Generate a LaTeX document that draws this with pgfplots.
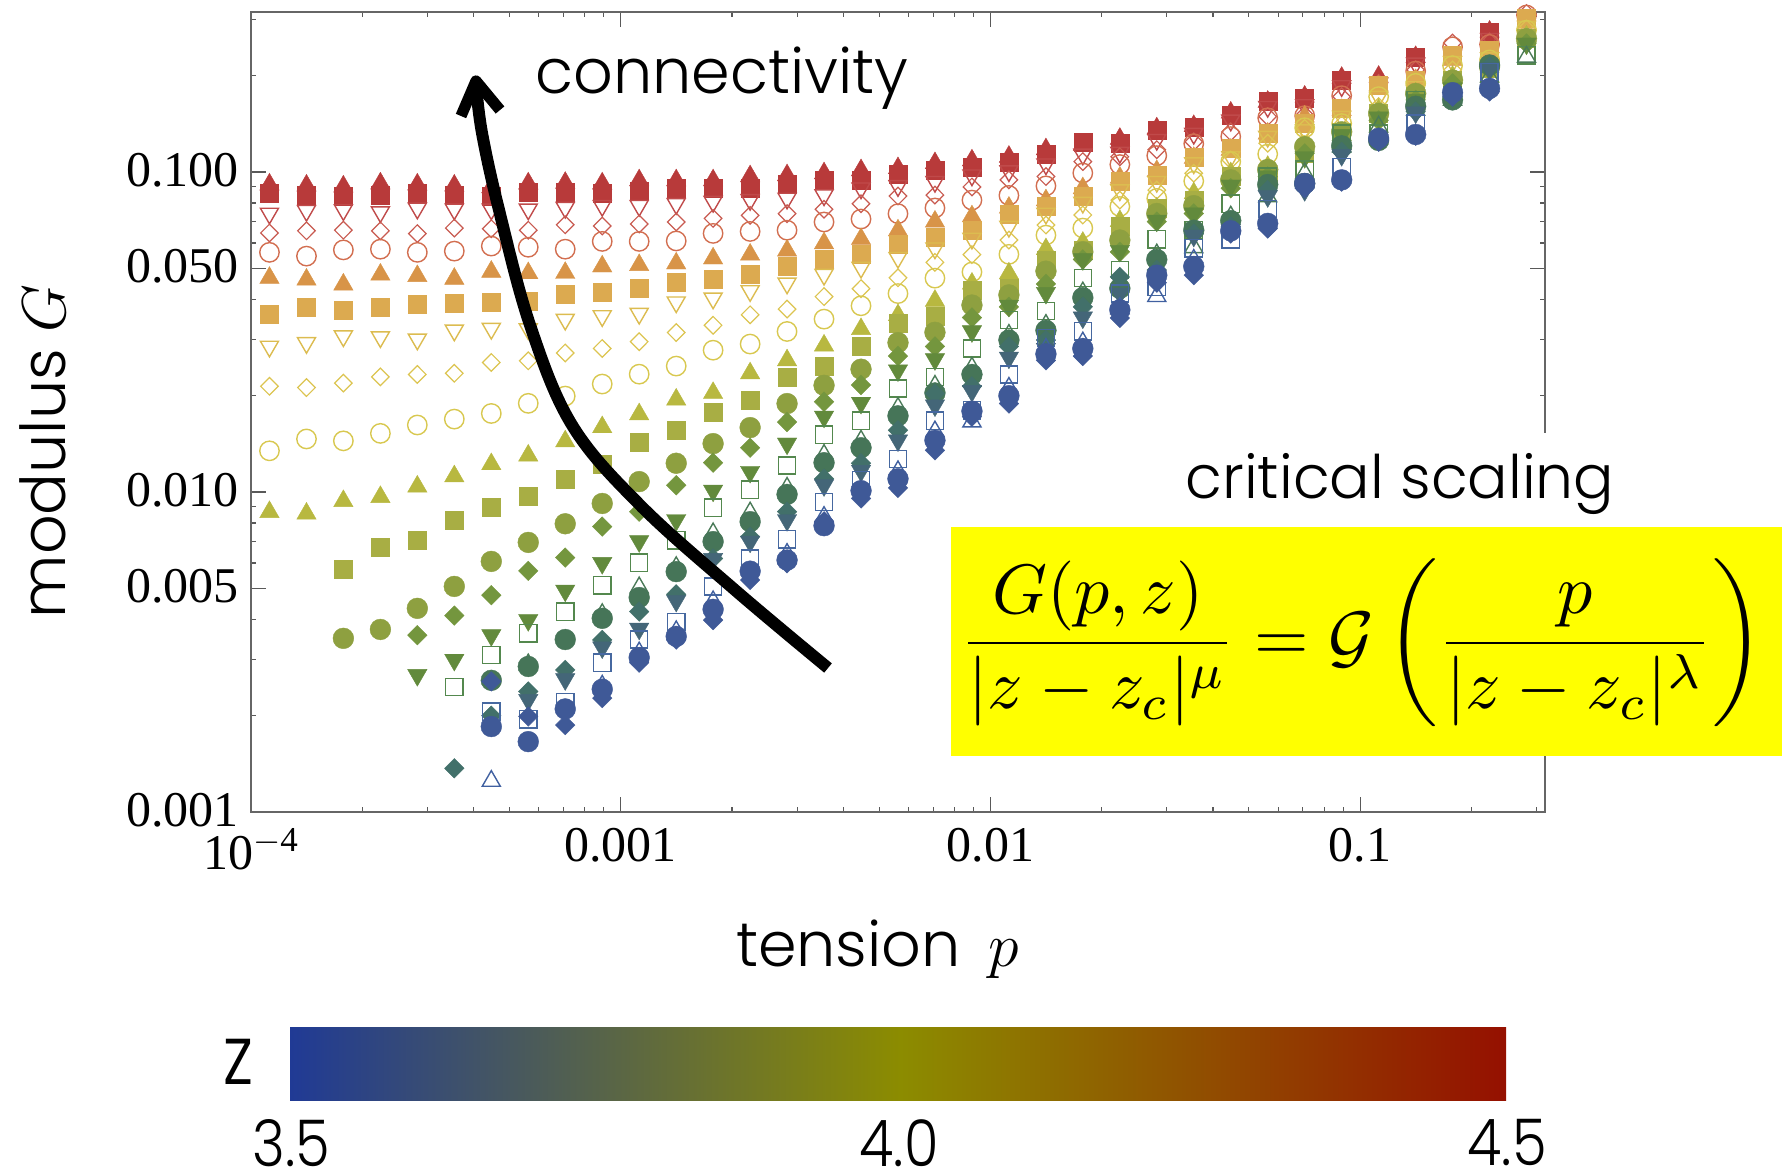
\RequirePackage{fix-cm}
\documentclass[border=0pt]{standalone}
\usepackage[no-math]{fontspec}
\setmainfont{Liberation Serif}
\newfontfamily\gothic{Poppins Light}
\usepackage{pgfplots}
\pgfplotsset{compat=1.18}
\definecolor{c1}{HTML}{B83A3A}\definecolor{c2}{HTML}{B83A3A}\definecolor{c3}{HTML}{C04A4A}
\definecolor{c4}{HTML}{C85A50}\definecolor{c5}{HTML}{D26E50}\definecolor{c6}{HTML}{D89448}
\definecolor{c7}{HTML}{DCAA50}\definecolor{c8}{HTML}{DCBC50}\definecolor{c9}{HTML}{DCC450}
\definecolor{c10}{HTML}{D8C850}\definecolor{c11}{HTML}{B8B840}\definecolor{c12}{HTML}{A8AE44}
\definecolor{c13}{HTML}{8EA040}\definecolor{c14}{HTML}{74963E}\definecolor{c15}{HTML}{628A3C}
\definecolor{c16}{HTML}{54884E}\definecolor{c17}{HTML}{4A7A58}\definecolor{c18}{HTML}{467558}
\definecolor{c19}{HTML}{42706A}\definecolor{c20}{HTML}{446678}\definecolor{c21}{HTML}{4668A0}
\definecolor{c22}{HTML}{4060A0}\definecolor{c23}{HTML}{3F5997}\definecolor{c24}{HTML}{3F5997}
\definecolor{cbL}{HTML}{203A95}\definecolor{cbM}{HTML}{8C8C00}\definecolor{cbR}{HTML}{951000}
\definecolor{yel}{rgb}{1,1,0}
\pgfplotsset{
 ut/.style={only marks,mark=triangle*,mark size=5.6pt,mark options={draw=#1,fill=#1,line width=.2pt,solid}},
 dnt/.style={only marks,mark=triangle*,mark size=5.6pt,mark options={draw=#1,fill=#1,line width=.2pt,rotate=180,solid}},
 st/.style={only marks,mark=square*,mark size=4.5pt,mark options={draw=#1,fill=#1,line width=.2pt,solid}},
 ct/.style={only marks,mark=*,mark size=5.2pt,mark options={draw=#1,fill=#1,line width=.2pt,solid}},
 dt/.style={only marks,mark=diamond*,mark size=4.9pt,mark options={draw=#1,fill=#1,line width=.2pt,xscale=1.33,solid}},
 oc/.style={only marks,mark=o,mark size=4.85pt,mark options={draw=#1,line width=.7pt,solid}},
 od/.style={only marks,mark=diamond,mark size=4.4pt,mark options={draw=#1,line width=.6pt,xscale=1.33,solid}},
 os/.style={only marks,mark=square,mark size=4.3pt,mark options={draw=#1,line width=.7pt,solid}},
 ot/.style={only marks,mark=triangle,mark size=5.2pt,mark options={draw=#1,line width=.7pt,solid}},
 odn/.style={only marks,mark=triangle,mark size=5.2pt,mark options={draw=#1,line width=.7pt,rotate=180,solid}},
}
\begin{document}
\begin{tikzpicture}
\useasboundingbox (0pt,0pt) rectangle (895.5pt,-587.5pt);
\begin{axis}[
 at={(125.5pt,-406pt)},anchor=south west,
 scale only axis,width=647pt,height=400pt,
 xmode=log,ymode=log,
 xmin=1e-4,xmax=0.3162,ymin=1e-3,ymax=0.3162,
 clip=false,
 xtick={1e-4,1e-3,1e-2,1e-1},
 xticklabels={10\textsuperscript{$-$4},0.001,0.01,0.1},
 ytick={0.001,0.005,0.01,0.05,0.1},
 yticklabels={0.001,0.005,0.010,0.050,0.100},
 minor xtick={2e-4,3e-4,4e-4,5e-4,6e-4,7e-4,8e-4,9e-4,2e-3,3e-3,4e-3,5e-3,6e-3,7e-3,8e-3,9e-3,2e-2,3e-2,4e-2,5e-2,6e-2,7e-2,8e-2,9e-2,0.2,0.3},
 minor ytick={0.002,0.003,0.004,0.006,0.007,0.008,0.009,0.02,0.03,0.04,0.06,0.07,0.08,0.09,0.2,0.3},
 tick align=inside,
 major tick length=7.5pt,minor tick length=2.4pt,
 tick style={black!65,line width=.6pt},
 axis line style={black!60,line width=.8pt},
 tick label style={font=\fontsize{25}{28}\selectfont,black},
 x tick label style={yshift=-4.7pt},
 y tick label style={xshift=-2.7pt,yshift=1pt},
 xlabel={\fontsize{31}{36}\selectfont\gothic tension\, $p$},
 ylabel={\fontsize{31}{36}\selectfont\gothic modulus $G$},
 x label style={at={(axis description cs:0.484,-0.172)},anchor=center},
 y label style={at={(axis description cs:-0.161,0.451)},anchor=center},
]
% S1
\addplot[ut=c1] coordinates {(1.122e-4,.0914)(1.413e-4,.0907)(1.778e-4,.0901)(2.239e-4,.0921)(2.818e-4,.0914)(3.548e-4,.0907)(4.467e-4,.0896)(5.623e-4,.0921)(7.079e-4,.0925)(8.913e-4,.0921)(1.122e-3,.0942)(1.413e-3,.0942)(1.778e-3,.0942)(2.239e-3,.0970)(2.818e-3,.0977)(3.548e-3,.0991)(4.467e-3,.1013)(5.623e-3,.1028)(7.079e-3,.1066)(8.913e-3,.1087)(.01122,.1116)(.01413,.1178)(.01778,.1215)(.02239,.127)(.02818,.1369)(.03548,.1392)(.04467,.1533)(.05623,.1658)(.07079,.1720)(.08913,.1970)(.1122,.1985)(.1413,.2288)(.2239,.2745)};
% S2
\addplot[st=c2] coordinates {(1.122e-4,.0856)(1.413e-4,.0847)(1.778e-4,.0841)(2.239e-4,.0849)(2.818e-4,.0856)(3.548e-4,.0849)(4.467e-4,.0840)(5.623e-4,.0864)(7.079e-4,.0864)(8.913e-4,.0860)(1.122e-3,.0872)(1.413e-3,.0887)(1.778e-3,.0893)(2.239e-3,.0887)(2.818e-3,.0917)(3.548e-3,.0940)(4.467e-3,.0940)(5.623e-3,.0981)(7.079e-3,.1010)(8.913e-3,.1032)(.01122,.1070)(.01413,.1140)(.01778,.1237)(.02239,.1226)(.02818,.1347)(.03548,.1385)(.04467,.1500)(.05623,.1660)(.07079,.1695)(.08913,.1938)(.1413,.2280)(.2239,.2725)};
% S3
\addplot[odn=c3] coordinates {(1.122e-4,.0742)(1.413e-4,.0757)(1.778e-4,.0761)(2.239e-4,.0750)(2.818e-4,.0770)(3.548e-4,.0765)(4.467e-4,.0765)(5.623e-4,.0765)(7.079e-4,.0774)(8.913e-4,.0785)(1.122e-3,.0785)(1.413e-3,.0796)(1.778e-3,.0808)(2.239e-3,.0819)(2.818e-3,.0827)(3.548e-3,.0847)(4.467e-3,.0890)(5.623e-3,.0905)(7.079e-3,.0933)(8.913e-3,.0977)(.01122,.1007)(.01413,.1058)(.01778,.1136)(.02239,.1150)(.02818,.1262)(.03548,.1318)(.04467,.1450)(.05623,.1600)(.07079,.1620)(.08913,.1858)(.1122,.1893)(.1413,.2185)(.2239,.2610)};
% S4
\addplot[od=c4] coordinates {(1.122e-4,.0645)(1.413e-4,.0655)(1.778e-4,.0658)(2.239e-4,.0655)(2.818e-4,.0642)(3.548e-4,.0668)(4.467e-4,.0665)(5.623e-4,.0658)(7.079e-4,.0684)(8.913e-4,.0678)(1.122e-3,.0688)(1.413e-3,.0698)(1.778e-3,.0716)(2.239e-3,.0732)(2.818e-3,.0741)(3.548e-3,.0765)(4.467e-3,.0796)(5.623e-3,.0841)(7.079e-3,.0847)(8.913e-3,.0898)(.01122,.0945)(.01413,.0968)(.01778,.1078)(.02239,.1116)(.02818,.1174)(.03548,.1243)(.04467,.1335)(.05623,.1490)(.07079,.1507)(.08913,.1720)(.1122,.1893)(.1413,.2085)(.1778,.2530)(.2239,.2550)(.2818,.3130)};
% S5
\addplot[oc=c5] coordinates {(1.122e-4,.0561)(1.413e-4,.0546)(1.778e-4,.0571)(2.239e-4,.0574)(2.818e-4,.0561)(3.548e-4,.0566)(4.467e-4,.0587)(5.623e-4,.0582)(7.079e-4,.0574)(8.913e-4,.0607)(1.122e-3,.0607)(1.413e-3,.0609)(1.778e-3,.0643)(2.239e-3,.0652)(2.818e-3,.0658)(3.548e-3,.0698)(4.467e-3,.0713)(5.623e-3,.0741)(7.079e-3,.0772)(8.913e-3,.0817)(.01122,.0845)(.01413,.0905)(.01778,.0993)(.02239,.1055)(.02818,.1125)(.03548,.1226)(.04467,.1290)(.05623,.1477)(.07079,.1500)(.08913,.1732)(.1413,.2068)(.1778,.2462)(.2239,.2505)(.2818,.3095)};
% S6
\addplot[ut=c6] coordinates {(1.122e-4,.0467)(1.413e-4,.0461)(1.778e-4,.0445)(2.239e-4,.0478)(2.818e-4,.0473)(3.548e-4,.0464)(4.467e-4,.0488)(5.623e-4,.0483)(7.079e-4,.0484)(8.913e-4,.0507)(1.122e-3,.0512)(1.413e-3,.0518)(1.778e-3,.0537)(2.239e-3,.0552)(2.818e-3,.0568)(3.548e-3,.0599)(4.467e-3,.0618)(5.623e-3,.0657)(7.079e-3,.0700)(8.913e-3,.0727)(.01122,.0774)(.01413,.0816)(.01778,.0890)(.02239,.0960)(.02818,.1007)(.03548,.1107)(.04467,.1174)(.05623,.1318)(.07079,.1490)(.08913,.1562)(.1122,.1845)(.1413,.1938)(.1778,.2240)(.2239,.2350)(.2818,.2925)};
% S7
\addplot[st=c7] coordinates {(1.122e-4,.0360)(1.413e-4,.0379)(1.778e-4,.0371)(2.239e-4,.0377)(2.818e-4,.0385)(3.548e-4,.0388)(4.467e-4,.0391)(5.623e-4,.0396)(7.079e-4,.0414)(8.913e-4,.0420)(1.122e-3,.0432)(1.413e-3,.0451)(1.778e-3,.0464)(2.239e-3,.0481)(2.818e-3,.0507)(3.548e-3,.0534)(4.467e-3,.0555)(5.623e-3,.0594)(7.079e-3,.0625)(8.913e-3,.0658)(.01122,.0736)(.01413,.0780)(.01778,.0840)(.02239,.0933)(.02818,.0977)(.03548,.1116)(.04467,.1187)(.05623,.1318)(.07079,.1417)(.08913,.1578)(.1122,.1870)(.1413,.1938)(.1778,.2315)(.2239,.2405)(.2818,.3025)};
% S8
\addplot[odn=c8] coordinates {(1.122e-4,.0285)(1.413e-4,.02925)(1.778e-4,.0307)(2.239e-4,.0305)(2.818e-4,.0300)(3.548e-4,.0320)(4.467e-4,.0324)(5.623e-4,.0323)(7.079e-4,.0346)(8.913e-4,.0355)(1.122e-3,.0361)(1.413e-3,.0392)(1.778e-3,.0403)(2.239e-3,.0425)(2.818e-3,.0449)(3.548e-3,.0478)(4.467e-3,.0503)(5.623e-3,.0540)(7.079e-3,.0578)(8.913e-3,.0620)(.01122,.0675)(.01413,.0742)(.01778,.0803)(.02239,.0878)(.02818,.0933)(.03548,.1066)(.04467,.1116)(.05623,.1290)(.07079,.1352)(.08913,.1490)(.1122,.1720)(.1413,.1845)(.1778,.2210)(.2239,.2270)(.2818,.2850)};
% S9
\addplot[od=c9] coordinates {(1.122e-4,.0214)(1.413e-4,.0212)(1.778e-4,.0219)(2.239e-4,.0229)(2.818e-4,.0233)(3.548e-4,.0235)(4.467e-4,.0254)(5.623e-4,.0257)(7.079e-4,.0272)(8.913e-4,.0281)(1.122e-3,.0295)(1.413e-3,.0315)(1.778e-3,.0332)(2.239e-3,.0358)(2.818e-3,.0373)(3.548e-3,.0408)(4.467e-3,.0432)(5.623e-3,.0467)(7.079e-3,.0522)(8.913e-3,.0552)(.01122,.0613)(.01413,.0683)(.01778,.0734)(.02239,.0817)(.02818,.0878)(.03548,.0991)(.04467,.1090)(.05623,.1230)(.07079,.1369)(.08913,.1403)(.1122,.1600)(.1413,.1760)(.1778,.2085)(.2239,.2185)(.2818,.2800)};
% S10
\addplot[oc=c10] coordinates {(1.122e-4,.01345)(1.413e-4,.01465)(1.778e-4,.01445)(2.239e-4,.01525)(2.818e-4,.0162)(3.548e-4,.0169)(4.467e-4,.0176)(5.623e-4,.01893)(7.079e-4,.01995)(8.913e-4,.02175)(1.122e-3,.02335)(1.413e-3,.02475)(1.778e-3,.02775)(2.239e-3,.0290)(2.818e-3,.03175)(3.548e-3,.0347)(4.467e-3,.0382)(5.623e-3,.0417)(7.079e-3,.0466)(8.913e-3,.0487)(.01122,.0553)(.01413,.0635)(.01778,.0668)(.02239,.0780)(.02818,.0827)(.03548,.0937)(.04467,.1078)(.05623,.1138)(.07079,.1375)(.08913,.1417)(.1122,.1720)(.1413,.1893)(.1778,.2150)(.2239,.2240)(.2818,.2775)};
% S11
\addplot[ut=c11] coordinates {(1.122e-4,.00866)(1.413e-4,.00856)(1.778e-4,.00937)(2.239e-4,.00965)(2.818e-4,.0104)(3.548e-4,.0112)(4.467e-4,.01222)(5.623e-4,.0130)(7.079e-4,.0144)(8.913e-4,.01595)(1.122e-3,.0175)(1.413e-3,.01945)(1.778e-3,.0204)(2.239e-3,.0235)(2.818e-3,.0258)(3.548e-3,.0287)(4.467e-3,.0323)(5.623e-3,.0357)(7.079e-3,.0396)(8.913e-3,.0448)(.01122,.0482)(.01413,.0574)(.01778,.0601)(.02239,.0703)(.02818,.0770)(.03548,.0858)(.04467,.0991)(.05623,.1038)(.07079,.1200)(.08913,.1230)(.1122,.1562)(.1413,.1760)(.1778,.1985)(.2239,.2135)(.2818,.2650)};
% S12
\addplot[st=c12] coordinates {(1.778e-4,.00576)(2.239e-4,.0067)(2.818e-4,.00705)(3.548e-4,.00814)(4.467e-4,.00898)(5.623e-4,.00968)(7.079e-4,.0110)(8.913e-4,.01222)(1.122e-3,.0143)(1.413e-3,.01555)(1.778e-3,.0177)(2.239e-3,.0194)(2.818e-3,.0228)(3.548e-3,.0248)(4.467e-3,.0286)(5.623e-3,.0338)(7.079e-3,.0354)(8.913e-3,.0426)(.01122,.0433)(.01413,.0531)(.01778,.0571)(.02239,.0675)(.02818,.0770)(.03548,.0817)(.04467,.0968)(.05623,.0968)(.07079,.1143)(.08913,.1335)(.1122,.1525)(.1413,.1720)(.1778,.1938)(.2239,.2105)(.2818,.2610)};
% S13
\addplot[ct=c13] coordinates {(1.778e-4,.00349)(2.239e-4,.00372)(2.818e-4,.00433)(3.548e-4,.00507)(4.467e-4,.00607)(5.623e-4,.00696)(7.079e-4,.00796)(8.913e-4,.00921)(1.122e-3,.01078)(1.413e-3,.0123)(1.778e-3,.01417)(2.239e-3,.0159)(2.818e-3,.0189)(3.548e-3,.02155)(4.467e-3,.0242)(5.623e-3,.0293)(7.079e-3,.03155)(8.913e-3,.0384)(.01122,.0413)(.01413,.0490)(.01778,.0563)(.02239,.0613)(.02818,.0742)(.03548,.0785)(.04467,.0945)(.05623,.1018)(.07079,.1200)(.08913,.1335)(.1122,.1525)(.1413,.1760)(.1778,.1938)(.2239,.2135)(.2818,.2610)};
% S14
\addplot[dt=c14] coordinates {(2.818e-4,.00357)(3.548e-4,.00411)(4.467e-4,.00476)(5.623e-4,.00567)(7.079e-4,.00624)(8.913e-4,.0078)(1.122e-3,.00868)(1.413e-3,.0105)(1.778e-3,.01235)(2.239e-3,.01375)(2.818e-3,.01655)(3.548e-3,.01915)(4.467e-3,.0216)(5.623e-3,.0266)(7.079e-3,.0285)(8.913e-3,.0351)(.01122,.0379)(.01413,.0447)(.01778,.0533)(.02239,.0563)(.02818,.0700)(.03548,.0742)(.04467,.0890)(.05623,.0968)(.07079,.1143)(.08913,.1255)(.1122,.1450)(.1413,.1680)(.1778,.1893)(.2239,.2105)(.2818,.2520)};
% S15
\addplot[dnt=c15] coordinates {(2.818e-4,.00268)(3.548e-4,.00299)(4.467e-4,.00357)(5.623e-4,.00398)(7.079e-4,.00492)(8.913e-4,.0060)(1.122e-3,.00702)(1.413e-3,.00817)(1.778e-3,.0101)(2.239e-3,.01156)(2.818e-3,.01417)(3.548e-3,.0172)(4.467e-3,.0190)(5.623e-3,.0240)(7.079e-3,.0260)(8.913e-3,.0318)(.01122,.0382)(.01413,.0419)(.01778,.0534)(.02239,.0567)(.02818,.0705)(.03548,.0742)(.04467,.0907)(.05623,.0968)(.07079,.1113)(.08913,.1305)(.1122,.1480)(.1413,.1680)(.1778,.1825)(.2239,.2085)(.2818,.2520)};
% S16
\addplot[os=c16] coordinates {(3.548e-4,.00246)(4.467e-4,.0031)(5.623e-4,.00362)(7.079e-4,.00423)(8.913e-4,.00511)(1.122e-3,.00601)(1.413e-3,.00707)(1.778e-3,.00893)(2.239e-3,.01017)(2.818e-3,.0121)(3.548e-3,.0151)(4.467e-3,.0167)(5.623e-3,.02105)(7.079e-3,.0229)(8.913e-3,.0281)(.01122,.03447)(.01413,.0368)(.01778,.0467)(.02239,.0494)(.02818,.0616)(.03548,.0658)(.04467,.0796)(.05623,.0968)(.07079,.1018)(.08913,.1318)(.1122,.1318)(.1413,.1680)(.1778,.1740)(.2239,.2030)(.2818,.2315)};
% S17
\addplot[ot=c17] coordinates {(5.623e-4,.00289)(8.913e-4,.00415)(1.122e-3,.00503)(1.413e-3,.00582)(1.778e-3,.00742)(2.239e-3,.00862)(2.818e-3,.0103)(3.548e-3,.01305)(4.467e-3,.01445)(5.623e-3,.0183)(7.079e-3,.02145)(8.913e-3,.02445)(.01122,.03095)(.01413,.03325)(.01778,.0420)(.02239,.0451)(.02818,.0552)(.03548,.0581)(.04467,.0725)(.05623,.0838)(.07079,.0991)(.08913,.1200)(.1122,.1385)(.1413,.1562)(.1778,.1680)(.2239,.1985)(.2818,.2288)};
% S18
\addplot[ct=c18] coordinates {(4.467e-4,.00258)(5.623e-4,.00285)(7.079e-4,.00346)(8.913e-4,.00403)(1.122e-3,.00468)(1.413e-3,.00564)(1.778e-3,.0070)(2.239e-3,.00808)(2.818e-3,.00983)(3.548e-3,.01235)(4.467e-3,.01375)(5.623e-3,.0173)(7.079e-3,.0204)(8.913e-3,.0233)(.01122,.02985)(.01413,.0320)(.01778,.0405)(.02239,.0433)(.02818,.0533)(.03548,.0658)(.04467,.0705)(.05623,.0914)(.07079,.0921)(.08913,.1207)(.1122,.1255)(.1413,.1605)(.1778,.1680)(.2239,.2160)};
% S19
\addplot[dt=c19] coordinates {(3.548e-4,.00137)(4.467e-4,.0020)(5.623e-4,.00238)(7.079e-4,.00278)(8.913e-4,.00345)(1.122e-3,.00423)(1.413e-3,.00479)(1.778e-3,.0062)(2.239e-3,.00725)(2.818e-3,.00868)(3.548e-3,.0110)(4.467e-3,.0123)(5.623e-3,.0156)(7.079e-3,.0203)(8.913e-3,.0214)(.01122,.0285)(.01413,.02985)(.01778,.0379)(.02239,.0470)(.02818,.0494)(.03548,.0642)(.04467,.0675)(.05623,.0878)(.07079,.0898)(.08913,.1156)(.1413,.1545)(.2239,.2135)};
% S20
\addplot[dnt=c20] coordinates {(5.623e-4,.00224)(7.079e-4,.0026)(8.913e-4,.00327)(1.122e-3,.00374)(1.413e-3,.00457)(1.778e-3,.00618)(2.239e-3,.0070)(2.818e-3,.00817)(3.548e-3,.0105)(4.467e-3,.01165)(5.623e-3,.0145)(7.079e-3,.01865)(8.913e-3,.0207)(.01122,.0263)(.01413,.0280)(.01778,.0351)(.02239,.0417)(.02818,.0465)(.03548,.0632)(.04467,.0658)(.05623,.0840)(.07079,.0878)(.08913,.1130)(.1413,.1535)(.2239,.2105)};
% S21
\addplot[os=c21] coordinates {(4.467e-4,.00206)(5.623e-4,.00195)(7.079e-4,.00221)(8.913e-4,.00293)(1.122e-3,.00346)(1.413e-3,.00393)(1.778e-3,.00507)(2.239e-3,.0062)(2.818e-3,.00712)(3.548e-3,.0093)(4.467e-3,.0109)(5.623e-3,.0127)(7.079e-3,.0167)(8.913e-3,.0180)(.01122,.0233)(.01413,.03025)(.01778,.0318)(.02239,.0417)(.02818,.0438)(.03548,.0578)(.04467,.0616)(.05623,.0767)(.08913,.1038)(.1413,.1417)(.2239,.2055)};
% S22
\addplot[ot=c22] coordinates {(4.467e-4,.00125)(8.913e-4,.00248)(1.122e-3,.00315)(1.413e-3,.00367)(1.778e-3,.00455)(2.818e-3,.0064)(3.548e-3,.00835)(5.623e-3,.0116)(7.079e-3,.01545)(8.913e-3,.0166)(.01122,.02115)(.01413,.0280)(.01778,.0293)(.02239,.0375)(.02818,.0409)(.03548,.0531)};
% S24
\addplot[dt=c24] coordinates {(4.467e-4,.00256)(5.623e-4,.00199)(7.079e-4,.00187)(8.913e-4,.00227)(1.122e-3,.00293)(1.413e-3,.00346)(1.778e-3,.00398)(2.239e-3,.00531)(2.818e-3,.00599)(3.548e-3,.0081)(4.467e-3,.00955)(5.623e-3,.0103)(7.079e-3,.0135)(8.913e-3,.0172)(.01122,.0189)(.01413,.0258)(.01778,.0266)(.02239,.0350)(.02818,.0451)(.03548,.0476)(.04467,.0642)(.05623,.0666)(.07079,.0890)(.08913,.0933)(.1122,.1243)(.1413,.1298)(.1778,.1720)(.2239,.1785)};
% S23
\addplot[ct=c23] coordinates {(4.467e-4,.00185)(5.623e-4,.00166)(7.079e-4,.0021)(8.913e-4,.00242)(1.122e-3,.00304)(1.413e-3,.00354)(1.778e-3,.0043)(2.239e-3,.00566)(2.818e-3,.00613)(3.548e-3,.00785)(4.467e-3,.0101)(5.623e-3,.0110)(7.079e-3,.0145)(8.913e-3,.0179)(.01122,.0200)(.01413,.0270)(.01778,.0281)(.02239,.0371)(.02818,.0476)(.03548,.0507)(.04467,.0655)(.05623,.0691)(.07079,.0921)(.08913,.0945)(.1122,.1275)(.1413,.1310)(.1778,.1770)(.2239,.1825)};
\end{axis}
\begin{scope}[x=0.5pt,y=-0.5pt]
% arrow
\draw[line width=6pt,black] plot[smooth,tension=0.6] coordinates {(828,668)(735,590)(640,505)(572,425)(530,325)(499,210)(482,133)(476,85)};
\draw[line width=5.6pt,black,line join=round] (461,116)--(476,81)--(500,110);
\node[font=\fontsize{31}{36}\selectfont\gothic] at (722,78) {connectivity};
% masks and formula
\fill[white] (1180,433) rectangle (1620,527);
\node[font=\fontsize{30}{36}\selectfont\gothic] at (1400,484) {critical scaling};
\fill[yel] (951,527) rectangle (1782,756);
\node[scale=3.5] at (1362,643) {$\displaystyle \frac{G(p,z)}{|z-z_c|^{\mu}}=\mathcal{G}\left(\frac{p}{|z-z_c|^{\lambda}}\right)$};
% colour bar
\shade[left color=cbL,right color=cbM] (290,1027) rectangle (901,1100);
\shade[left color=cbM,right color=cbR] (900,1027) rectangle (1506,1100);
\node[font=\fontsize{34}{40}\selectfont\gothic,yscale=1.22] at (238,1062) {z};
\node[font=\fontsize{28}{32}\selectfont\gothic,yscale=1.15] at (291,1143) {3.5};
\node[font=\fontsize{28}{32}\selectfont\gothic,yscale=1.15] at (899,1143) {4.0};
\node[font=\fontsize{28}{32}\selectfont\gothic,yscale=1.15] at (1507,1143) {4.5};
\end{scope}
\end{tikzpicture}
\end{document}
